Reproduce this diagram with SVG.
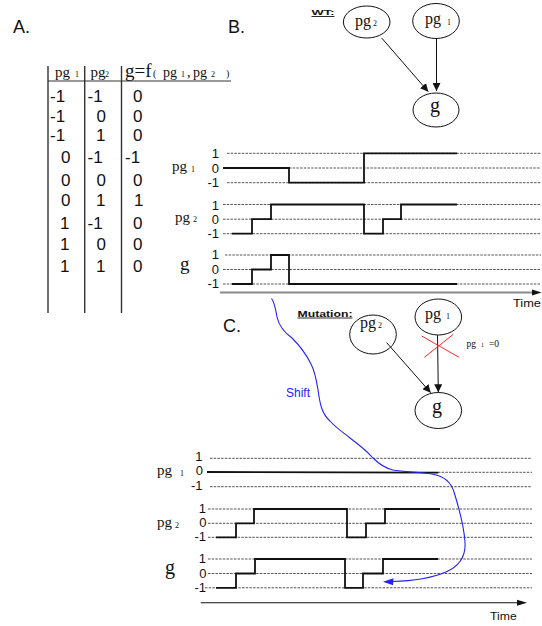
<svg xmlns="http://www.w3.org/2000/svg" width="542" height="626" viewBox="0 0 542 626">
  <defs>
    <style>
      .sans { font-family: "Liberation Sans", Arial, sans-serif; fill: #111; }
      .serif { font-family: "Liberation Serif", "Times New Roman", serif; fill: #111; }
      .panel { font-size: 18px; }
      .cell { font-size: 17px; }
      .tick { font-size: 13px; text-anchor: end; }
      .sub { font-size: 8px; }
      .grid { stroke: #555; stroke-width: 1; stroke-dasharray: 2.5 1.2; fill: none; }
      .sig { stroke: #111; stroke-width: 1.8; fill: none; stroke-linejoin: miter; }
      .rule { stroke: #333; stroke-width: 1.4; }
      .node { fill: #fff; stroke: #111; stroke-width: 1; }
      .edge { stroke: #111; stroke-width: 1; fill: none; marker-end: url(#head); }
    </style>
    <marker id="head" viewBox="0 0 10 10" refX="10" refY="5" markerWidth="8" markerHeight="8" markerUnits="userSpaceOnUse" orient="auto">
      <path d="M0,0 L10,5 L0,10 z" fill="#111"/>
    </marker>
  </defs>

  <rect width="542" height="626" fill="#fff"/>

  <!-- panel letters -->
  <text class="sans panel" x="13" y="33">A.</text>
  <text class="sans panel" x="228" y="33">B.</text>
  <text class="sans panel" x="223" y="332">C.</text>

  <!-- truth table -->
  <g id="truth-table">
    <line class="rule" x1="48" y1="66" x2="48" y2="313"/>
    <line class="rule" x1="84.7" y1="66" x2="84.7" y2="313"/>
    <line class="rule" x1="121.5" y1="66" x2="121.5" y2="313"/>
    <line x1="48" y1="81" x2="231" y2="81" stroke="#333" stroke-width="1"/>
    <text class="serif" font-size="15" x="55" y="77">pg</text>
    <text class="serif sub" x="75" y="77">1</text>
    <text class="serif" font-size="15" x="90.5" y="77">pg</text>
    <text class="serif sub" x="105" y="77">2</text>
    <text class="serif" font-size="19" x="125" y="77">g=f</text>
    <text class="serif" font-size="10" x="153" y="77">(</text>
    <text class="serif" font-size="14" x="163" y="77">pg</text>
    <text class="serif sub" x="181" y="77">1</text>
    <text class="serif" font-size="14" x="187" y="77">,</text>
    <text class="serif" font-size="14" x="193" y="77">pg</text>
    <text class="serif sub" x="211" y="77">2</text>
    <text class="serif" font-size="10" x="226" y="77">)</text>
    <g class="sans cell">
      <text x="50" y="102">-1</text><text x="87.5" y="102">-1</text><text x="133" y="102">0</text>
      <text x="50" y="122">-1</text><text x="96.5" y="122">0</text><text x="133" y="122">0</text>
      <text x="50" y="141">-1</text><text x="96" y="141">1</text><text x="133" y="141">0</text>
      <text x="61" y="163">0</text><text x="87.5" y="163">-1</text><text x="125" y="163">-1</text>
      <text x="61" y="186">0</text><text x="96.5" y="186">0</text><text x="133" y="186">0</text>
      <text x="61" y="206">0</text><text x="96" y="206">1</text><text x="134" y="206">1</text>
      <text x="60" y="229">1</text><text x="87.5" y="229">-1</text><text x="133" y="229">0</text>
      <text x="60" y="250">1</text><text x="96.5" y="250">0</text><text x="133" y="250">0</text>
      <text x="60" y="272">1</text><text x="96" y="272">1</text><text x="133" y="272">0</text>
    </g>
  </g>

  <!-- wild-type network -->
  <text class="sans" font-size="8" font-weight="bold" x="311.5" y="15" textLength="23" lengthAdjust="spacingAndGlyphs">WT:</text>
  <line x1="311.5" y1="16.5" x2="334.5" y2="16.5" stroke="#111" stroke-width="0.9"/>
  <g id="wt-pg2">
    <ellipse class="node" cx="366.7" cy="22" rx="23.3" ry="16"/>
    <text class="serif" font-size="16" x="355" y="26">pg</text>
    <text class="serif sub" x="373" y="26">2</text>
  </g>
  <g id="wt-pg1">
    <ellipse class="node" cx="436" cy="21" rx="23.3" ry="17.5"/>
    <text class="serif" font-size="16" x="425" y="24">pg</text>
    <text class="serif sub" x="447" y="25">1</text>
  </g>
  <g id="wt-g">
    <ellipse class="node" cx="436" cy="110" rx="23" ry="17"/>
    <text class="serif" font-size="20" x="430" y="111.5">g</text>
  </g>

  <!-- mutant network -->
  <text class="sans" font-size="9.5" font-weight="bold" x="297.5" y="316.5" textLength="55" lengthAdjust="spacingAndGlyphs">Mutation:</text>
  <line x1="297.5" y1="318" x2="352.5" y2="318" stroke="#111" stroke-width="0.9"/>
  <g id="mut-pg2">
    <ellipse class="node" cx="373" cy="334.5" rx="23.3" ry="19.5"/>
    <text class="serif" font-size="16" x="360" y="327.5">pg</text>
    <text class="serif sub" x="378" y="328">2</text>
  </g>
  <g id="mut-pg1">
    <ellipse class="node" cx="438.3" cy="317" rx="23.3" ry="18"/>
    <text class="serif" font-size="16" x="425" y="318.5">pg</text>
    <text class="serif sub" x="446" y="319">1</text>
  </g>
  <g id="mut-g">
    <ellipse class="node" cx="438.3" cy="410.5" rx="23.3" ry="18"/>
    <text class="serif" font-size="20" x="432" y="413">g</text>
  </g>
  <text class="serif" font-size="9.5" x="466.5" y="347">pg</text>
  <text class="serif" font-size="6" x="481" y="347">1</text>
  <text class="serif" font-size="9.5" x="489" y="347">=0</text>

  <!-- connectors -->
  <g id="connectors">
    <line class="edge" x1="381.7" y1="38" x2="428.3" y2="91.7"/>
    <line class="edge" x1="436.5" y1="38.5" x2="436.5" y2="91"/>
    <line class="edge" x1="386.7" y1="342.7" x2="430.7" y2="392.7"/>
    <line class="edge" x1="437.5" y1="335" x2="438.3" y2="392.3"/>
    <g stroke="#ff2a2a" stroke-width="1">
      <line x1="421.7" y1="336" x2="459" y2="357.3"/>
      <line x1="424.3" y1="357.3" x2="453.3" y2="334.3"/>
    </g>
  </g>

  <!-- wild-type time courses -->
  <g id="wt-pg1-trace">
    <text class="serif" font-size="15" x="172" y="171">pg</text>
    <text class="serif sub" x="191" y="172">1</text>
    <text class="sans tick" x="219" y="158">1</text>
    <text class="sans tick" x="219" y="172.5">0</text>
    <text class="sans tick" x="219" y="187">-1</text>
    <line class="grid" x1="227" y1="153.3" x2="541" y2="153.3"/>
    <line class="grid" x1="289" y1="168" x2="541" y2="168"/>
    <line class="grid" x1="227" y1="182.7" x2="541" y2="182.7"/>
    <polyline class="sig" points="223,168 289,168 289,182.7 364,182.7 364,153.3 457,153.3"/>
  </g>
  <g id="wt-pg2-trace">
    <text class="serif" font-size="15" x="175" y="222">pg</text>
    <text class="serif sub" x="193" y="222">2</text>
    <text class="sans tick" x="219" y="209.5">1</text>
    <text class="sans tick" x="219" y="223.5">0</text>
    <text class="sans tick" x="219" y="238">-1</text>
    <line class="grid" x1="223" y1="204.5" x2="541" y2="204.5"/>
    <line class="grid" x1="223" y1="219.2" x2="541" y2="219.2"/>
    <line class="grid" x1="223" y1="233.7" x2="541" y2="233.7"/>
    <polyline class="sig" points="232,233.7 252,233.7 252,219.2 271,219.2 271,204.5 364,204.5 364,233.7 383,233.7 383,219.2 401,219.2 401,204.5 457,204.5"/>
  </g>
  <g id="wt-g-trace">
    <text class="serif" font-size="19" x="180" y="270">g</text>
    <text class="sans tick" x="219" y="259">1</text>
    <text class="sans tick" x="219" y="273.5">0</text>
    <text class="sans tick" x="219" y="288">-1</text>
    <line class="grid" x1="225" y1="255" x2="541" y2="255"/>
    <line class="grid" x1="223" y1="269.5" x2="541" y2="269.5"/>
    <line class="grid" x1="223" y1="284" x2="541" y2="284"/>
    <polyline class="sig" points="232,284 252,284 252,269.5 271,269.5 271,255 289,255 289,284 457,284"/>
  </g>
  <g id="wt-time-axis">
    <line x1="220" y1="292.5" x2="533" y2="292.5" stroke="#8a8a8a" stroke-width="2"/>
    <path d="M532,289.5 L541.5,292.5 L532,295.5 z" fill="#111"/>
    <text class="sans" font-size="11" x="513" y="306.5" textLength="28" lengthAdjust="spacingAndGlyphs">Time</text>
  </g>

  <!-- mutant time courses -->
  <g id="mut-pg1-trace">
    <text class="serif" font-size="15" x="157" y="475">pg</text>
    <text class="serif sub" x="180" y="476">1</text>
    <text class="sans tick" x="202.5" y="460.7">1</text>
    <text class="sans tick" x="203" y="475">0</text>
    <text class="sans tick" x="202.5" y="490">-1</text>
    <line class="grid" x1="210" y1="458.3" x2="532" y2="458.3"/>
    <line class="grid" x1="438" y1="472.3" x2="532" y2="472.3"/>
    <line class="grid" x1="210" y1="486.7" x2="532" y2="486.7"/>
    <polyline class="sig" points="207,472 438.3,472.6"/>
  </g>
  <g id="mut-pg2-trace">
    <text class="serif" font-size="15" x="157" y="527">pg</text>
    <text class="serif sub" x="175" y="528">2</text>
    <text class="sans tick" x="206" y="513.3">1</text>
    <text class="sans tick" x="206.5" y="527">0</text>
    <text class="sans tick" x="206" y="540.5">-1</text>
    <line class="grid" x1="208" y1="509" x2="532" y2="509"/>
    <line class="grid" x1="208" y1="523.3" x2="532" y2="523.3"/>
    <line class="grid" x1="208" y1="537.3" x2="532" y2="537.3"/>
    <polyline class="sig" points="216,537.3 236,537.3 236,523.3 254,523.3 254,509 347,509 347,537.3 366,537.3 366,523.3 385,523.3 385,509 440,509"/>
  </g>
  <g id="mut-g-trace">
    <text class="serif" font-size="20" x="165" y="574">g</text>
    <text class="sans tick" x="206" y="563">1</text>
    <text class="sans tick" x="206.5" y="578">0</text>
    <text class="sans tick" x="206" y="592">-1</text>
    <line class="grid" x1="208" y1="559" x2="532" y2="559"/>
    <line class="grid" x1="208" y1="573.5" x2="532" y2="573.5"/>
    <line class="grid" x1="205" y1="587.8" x2="532" y2="587.8"/>
    <polyline class="sig" points="216,587.8 236,587.8 236,573.5 255,573.5 255,559 345,559 345,587.8 363,587.8 363,573.5 383,573.5 383,559 438,559"/>
  </g>
  <g id="mut-time-axis">
    <line x1="200.7" y1="602.7" x2="518" y2="602.7" stroke="#111" stroke-width="1.1"/>
    <path d="M517,599.7 L527,602.7 L517,605.7 z" fill="#111"/>
    <text class="sans" font-size="11" x="490" y="620" textLength="26.7" lengthAdjust="spacingAndGlyphs">Time</text>
  </g>

  <!-- shift annotation -->
  <g id="shift">
    <path d="M271.5,298.5 C275,303 276,312 277,317 C279,326 285,333 292,338 C300,346 307,356 311,364 C316,374 317,384 318.5,393 C320,404 322,414 330,421 C336,428 344,433 350,438 C358,444 366,450 373,458 C379,464 384,468 393,470 C404,472 420,472 432,474 C444,476 451,482 454,492 C459,508 464,528 465,542 C466,556 460,566 446,572 C432,578 412,581 392,581.5" fill="none" stroke="#2323f5" stroke-width="1.1"/>
    <path d="M383,581.8 L393.5,578.3 L393,585.3 z" fill="#2323f5"/>
    <text class="sans" font-size="12" x="286" y="396.5" style="fill:#2323f5">Shift</text>
  </g>
</svg>
